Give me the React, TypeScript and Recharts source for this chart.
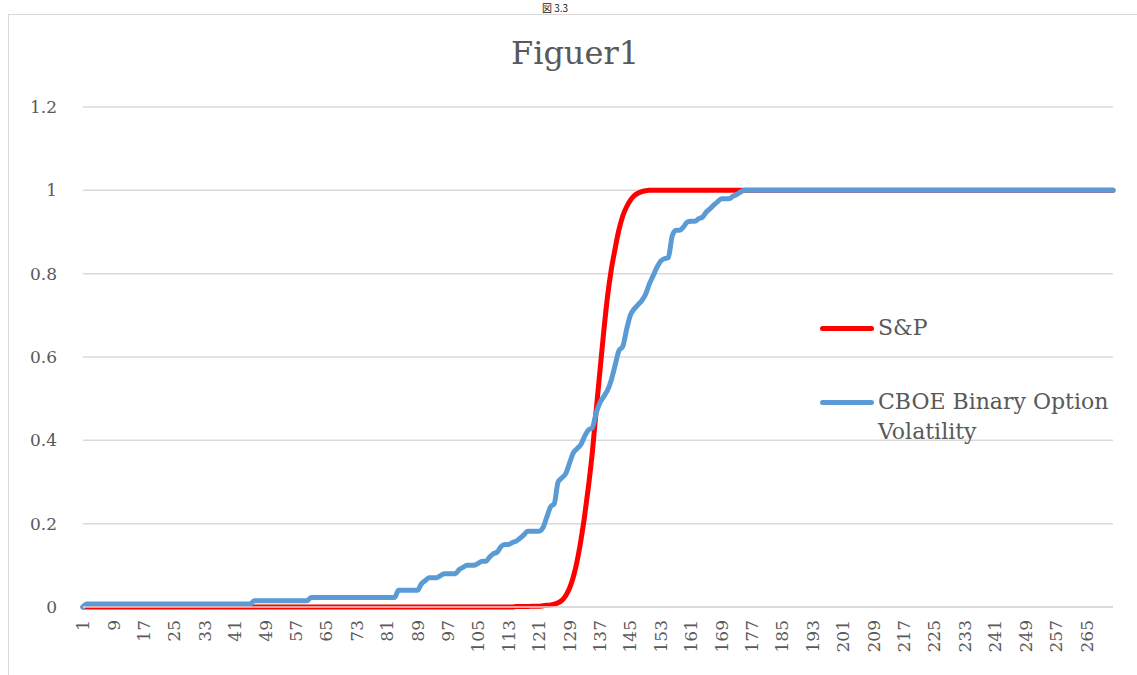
import React from "react";
import { LineChart, Line, XAxis, YAxis, CartesianGrid } from "recharts";

const FONT = "'DejaVu Serif', serif";
const TEXT = "#595959";
const GRID = "#d9d9d9";

// 272 daily observations, cumulative share (0..1)
const spValues = [
  0, 0, 0, 0, 0, 0, 0, 0, 0, 0, 0, 0, 0, 0, 0, 0, 0, 0, 0, 0,
  0, 0, 0, 0, 0, 0, 0, 0, 0, 0, 0, 0, 0, 0, 0, 0, 0, 0, 0, 0,
  0, 0, 0, 0, 0, 0, 0, 0, 0, 0, 0, 0, 0, 0, 0, 0, 0, 0, 0, 0,
  0, 0, 0, 0, 0, 0, 0, 0, 0, 0, 0, 0, 0, 0, 0, 0, 0, 0, 0, 0,
  0, 0, 0, 0, 0, 0, 0, 0, 0, 0, 0, 0, 0, 0, 0, 0, 0, 0, 0, 0,
  0, 0, 0, 0, 0, 0, 0, 0, 0, 0, 0, 0, 0, 0, 0.001, 0.001, 0.001, 0.001, 0.002, 0.002,
  0.002, 0.003, 0.004, 0.005, 0.007, 0.01, 0.016, 0.027, 0.045, 0.072, 0.11, 0.16, 0.22, 0.29, 0.37, 0.47, 0.565, 0.66, 0.745, 0.81,
  0.86, 0.905, 0.938, 0.96, 0.976, 0.987, 0.993, 0.997, 0.999, 1, 1, 1, 1, 1, 1, 1, 1, 1, 1, 1,
  1, 1, 1, 1, 1, 1, 1, 1, 1, 1, 1, 1, 1, 1, 1, 1, 1, 1, 1, 1,
  1, 1, 1, 1, 1, 1, 1, 1, 1, 1, 1, 1, 1, 1, 1, 1, 1, 1, 1, 1,
  1, 1, 1, 1, 1, 1, 1, 1, 1, 1, 1, 1, 1, 1, 1, 1, 1, 1, 1, 1,
  1, 1, 1, 1, 1, 1, 1, 1, 1, 1, 1, 1, 1, 1, 1, 1, 1, 1, 1, 1,
  1, 1, 1, 1, 1, 1, 1, 1, 1, 1, 1, 1, 1, 1, 1, 1, 1, 1, 1, 1,
  1, 1, 1, 1, 1, 1, 1, 1, 1, 1, 1, 1,
];

const cboeValues = [
  0, 0.007, 0.007, 0.007, 0.007, 0.007, 0.007, 0.007, 0.007, 0.007, 0.007, 0.007, 0.007, 0.007, 0.007, 0.007, 0.007, 0.007, 0.007, 0.007,
  0.007, 0.007, 0.007, 0.007, 0.007, 0.007, 0.007, 0.007, 0.007, 0.007, 0.007, 0.007, 0.007, 0.007, 0.007, 0.007, 0.007, 0.007, 0.007, 0.007,
  0.007, 0.007, 0.007, 0.007, 0.007, 0.015, 0.015, 0.015, 0.015, 0.015, 0.015, 0.015, 0.015, 0.015, 0.015, 0.015, 0.015, 0.015, 0.015, 0.015,
  0.023, 0.023, 0.023, 0.023, 0.023, 0.023, 0.023, 0.023, 0.023, 0.023, 0.023, 0.023, 0.023, 0.023, 0.023, 0.023, 0.023, 0.023, 0.023, 0.023,
  0.023, 0.023, 0.023, 0.04, 0.04, 0.04, 0.04, 0.04, 0.04, 0.055, 0.063, 0.07, 0.07, 0.07, 0.075, 0.08, 0.08, 0.08, 0.08, 0.09,
  0.095, 0.1, 0.1, 0.1, 0.105, 0.11, 0.11, 0.12, 0.128, 0.132, 0.145, 0.15, 0.15, 0.155, 0.158, 0.165, 0.173, 0.182, 0.182, 0.182,
  0.182, 0.19, 0.215, 0.24, 0.248, 0.3, 0.31, 0.32, 0.345, 0.37, 0.38, 0.39, 0.41, 0.425, 0.43, 0.465, 0.49, 0.505, 0.52, 0.545,
  0.58, 0.615, 0.625, 0.665, 0.7, 0.715, 0.725, 0.735, 0.75, 0.775, 0.795, 0.815, 0.83, 0.836, 0.838, 0.89, 0.904, 0.904, 0.912, 0.924,
  0.926, 0.926, 0.932, 0.936, 0.948, 0.956, 0.965, 0.973, 0.98, 0.98, 0.98, 0.986, 0.99, 0.996, 1, 1, 1, 1, 1, 1,
  1, 1, 1, 1, 1, 1, 1, 1, 1, 1, 1, 1, 1, 1, 1, 1, 1, 1, 1, 1,
  1, 1, 1, 1, 1, 1, 1, 1, 1, 1, 1, 1, 1, 1, 1, 1, 1, 1, 1, 1,
  1, 1, 1, 1, 1, 1, 1, 1, 1, 1, 1, 1, 1, 1, 1, 1, 1, 1, 1, 1,
  1, 1, 1, 1, 1, 1, 1, 1, 1, 1, 1, 1, 1, 1, 1, 1, 1, 1, 1, 1,
  1, 1, 1, 1, 1, 1, 1, 1, 1, 1, 1, 1,
];

const yTicks = [0, 0.2, 0.4, 0.6, 0.8, 1, 1.2];

const seriesNames = ["S&P", "CBOE Binary Option Volatility"];
const seriesColors = ["#ff0000", "#5b9bd5"];

const data = spValues.map((sp, i) => ({
  day: String(i + 1),
  sp,
  cboe: cboeValues[i],
}));

function XTick(props: any) {
  const { x, y, payload } = props;
  return (
    <text
      x={x}
      y={y}
      transform={`rotate(-90, ${x}, ${y})`}
      textAnchor="end"
      dy="0.36em"
      fill={TEXT}
      fontFamily={FONT}
      fontSize={17}
    >
      {payload.value}
    </text>
  );
}

function LegendBox() {
  const rows = [
    { name: seriesNames[0], color: seriesColors[0], lines: ["S&P"] },
    { name: seriesNames[1], color: seriesColors[1], lines: ["CBOE Binary Option", "Volatility"] },
  ];
  return (
    <div style={{ fontFamily: FONT, fontSize: 22, color: TEXT }}>
      {rows.map((r, i) => (
        <div key={r.name} style={{ display: "flex", alignItems: "flex-start", marginBottom: i === 0 ? 44 : 0 }}>
          <div
            style={{
              width: 54,
              height: 5,
              borderRadius: 3,
              background: r.color,
              marginTop: 13,
              marginRight: 4,
            }}
          />
          <div style={{ lineHeight: "30px" }}>
            {r.lines.map((l) => (
              <div key={l} style={{ whiteSpace: "nowrap" }}>{l}</div>
            ))}
          </div>
        </div>
      ))}
    </div>
  );
}

export default function App() {
  return (
    <div
      style={{
        position: "fixed",
        left: 0,
        top: 0,
        width: 1137,
        height: 675,
        overflow: "hidden",
        background: "#fff",
      }}
    >
      <div
        style={{
          position: "absolute",
          left: 542,
          top: 2,
          fontFamily: "'Noto Sans CJK JP', serif",
          fontSize: 10,
          lineHeight: "11px",
          color: "#222",
        }}
      >
        図 3.3
      </div>
      <div
        style={{
          position: "absolute",
          left: 8,
          top: 14,
          width: 1150,
          height: 700,
          border: `1.5px solid ${GRID}`,
        }}
      />
      <div
        style={{
          position: "absolute",
          left: 0,
          width: 1150,
          top: 34,
          textAlign: "center",
          fontFamily: FONT,
          fontSize: 32,
          color: TEXT,
        }}
      >
        Figuer1
      </div>
      <div style={{ position: "absolute", left: 0, top: 0 }}>
        <LineChart
          width={1137}
          height={675}
          data={data}
          margin={{ top: 107, right: 24, bottom: 0, left: 0 }}
        >
          <CartesianGrid vertical={false} stroke={GRID} strokeWidth={1.5} />
          <XAxis
            dataKey="day"
            interval={7}
            tickLine={false}
            axisLine={{ stroke: GRID, strokeWidth: 1.5 }}
            height={68}
            tick={<XTick />}
            tickMargin={7}
          />
          <YAxis
            domain={[0, 1.2]}
            ticks={yTicks}
            width={83}
            axisLine={false}
            tickLine={false}
            tickSize={0}
            tickMargin={26}
            tick={{ fill: TEXT, fontFamily: FONT, fontSize: 17 }}
          />
          <Line
            type="monotone"
            dataKey="sp"
            name={seriesNames[0]}
            stroke={seriesColors[0]}
            strokeWidth={5}
            strokeLinecap="round"
            strokeLinejoin="round"
            dot={false}
            isAnimationActive={false}
          />
          <Line
            type="monotone"
            dataKey="cboe"
            name={seriesNames[1]}
            stroke={seriesColors[1]}
            strokeWidth={5}
            strokeLinecap="round"
            strokeLinejoin="round"
            dot={false}
            isAnimationActive={false}
          />
        </LineChart>
      </div>
      <div style={{ position: "absolute", left: 820, top: 313, width: 320 }}>
        <LegendBox />
      </div>
    </div>
  );
}
